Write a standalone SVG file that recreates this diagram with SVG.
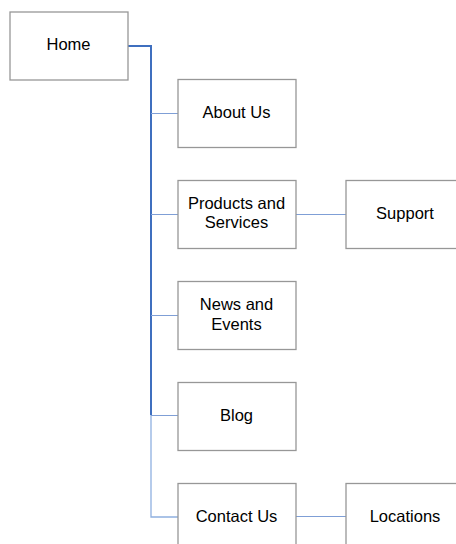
<svg xmlns="http://www.w3.org/2000/svg" width="456" height="544" viewBox="0 0 456 544">
  <style>
    .box { fill: #ffffff; stroke: #979797; stroke-width: 1.3; }
    .lbl { font-family: "Liberation Sans", Arial, sans-serif; font-size: 16.5px; fill: #000000; text-anchor: middle; }
    .trunk { fill: none; stroke: #3f6fbf; stroke-width: 2; }
    .trunk-lo { fill: none; stroke: #8fb0e0; stroke-width: 1.3; }
    .branch { fill: none; stroke: #7f9fd6; stroke-width: 1; }
  </style>
  <rect width="456" height="544" fill="#ffffff"/>

  <g id="connectors">
    <path class="trunk" d="M128 46 H151 V415"/>
    <path class="trunk-lo" d="M151 415 V517 H178"/>
    <path class="branch" d="M151 113.5 H178" stroke="#8a95a8"/>
    <path class="branch" d="M151 214.5 H178"/>
    <path class="branch" d="M151 315.5 H178"/>
    <path class="branch" d="M151 415.5 H178"/>
    <path class="branch" d="M296 214.5 H346"/>
    <path class="branch" d="M296 516.5 H346"/>
  </g>

  <g id="home">
    <rect class="box" x="10" y="12" width="118" height="68"/>
    <text class="lbl" x="68.5" y="50">Home</text>
  </g>
  <g id="about">
    <rect class="box" x="178" y="79.5" width="118" height="68"/>
    <text class="lbl" x="236.5" y="118">About Us</text>
  </g>
  <g id="products">
    <rect class="box" x="178" y="180.5" width="118" height="68"/>
    <text class="lbl" x="236.5" y="209">Products and</text>
    <text class="lbl" x="236.5" y="228">Services</text>
  </g>
  <g id="support">
    <rect class="box" x="346" y="180.5" width="118" height="68"/>
    <text class="lbl" x="405" y="219">Support</text>
  </g>
  <g id="news">
    <rect class="box" x="178" y="281.5" width="118" height="68"/>
    <text class="lbl" x="236.5" y="310">News and</text>
    <text class="lbl" x="236.5" y="330">Events</text>
  </g>
  <g id="blog">
    <rect class="box" x="178" y="382.5" width="118" height="68"/>
    <text class="lbl" x="236.5" y="421">Blog</text>
  </g>
  <g id="contact">
    <rect class="box" x="178" y="483.5" width="118" height="68"/>
    <text class="lbl" x="236.5" y="522">Contact Us</text>
  </g>
  <g id="locations">
    <rect class="box" x="346" y="483.5" width="118" height="68"/>
    <text class="lbl" x="405" y="522">Locations</text>
  </g>
</svg>
